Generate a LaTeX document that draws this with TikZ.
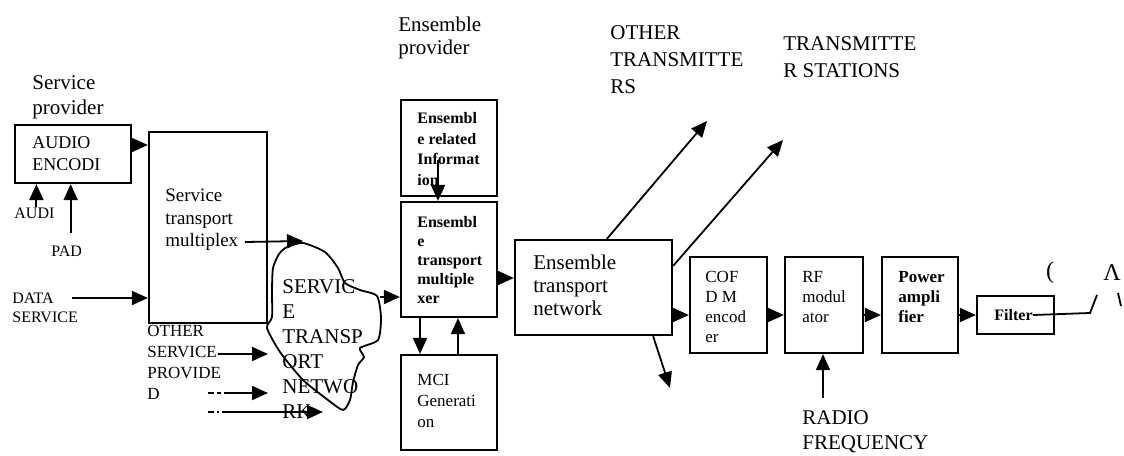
\documentclass[tikz,border=0pt]{standalone}
\usepackage{fontspec}
\setmainfont{Liberation Serif}
\usetikzlibrary{positioning, calc, fit, arrows.meta}

\newcommand{\bigtxt}{\fontsize{10.5}{12.5}\selectfont}
\newcommand{\smalltxt}{\fontsize{8.5}{10}\selectfont}

\begin{document}
\begin{tikzpicture}[x=0.5pt, y=-0.5pt,
		box/.style={draw, line width=1.1pt, inner sep=0pt},
		lbl/.style={align=left, inner sep=0pt, anchor=west},
		arr/.style={-{Triangle[length=8pt,width=7pt]}, line width=0.9pt},
		wire/.style={line width=0.9pt},
	]
		\useasboundingbox (0,0) rectangle (1124,455);

		% service provider side
		\node[lbl, font=\bigtxt] (sp) at (32,97) {Service\\provider};
		\node[box, fit={(15,125) (131,183)}] (audio) {};
		\node[lbl, font=\fontsize{9}{11}\selectfont] (audiot) at (32,154) {AUDIO\\ENCODI};
		\node[lbl, font=\fontsize{8}{9.5}\selectfont] (audi) at (14,213) {AUDI};
		\node[lbl, font=\fontsize{8}{9.5}\selectfont] (pad) at (51,251) {PAD};
		\node[lbl, font=\fontsize{8}{9.5}\selectfont] (data) at (12,308) {DATA\\SERVICE};
		\node[box, fit={(149,132) (267,323)}] (stm) {};
		\node[lbl, font=\fontsize{9.5}{11.25}\selectfont] (stmt) at (165,220) {Service\\transport\\multiplex};
		\node[lbl, font=\fontsize{8.5}{10.5}\selectfont] (osp) at (147,362) {OTHER\\SERVICE\\PROVIDE\\D};

		\draw[arr] ([yshift=4.5pt]audio.east) coordinate (a1) -- (a1 -| stm.west);
		\draw[arr] ([xshift=1pt]audi.north) -- ([xshift=1pt]audi.north |- audio.south);
		\draw[arr] ([xshift=2pt, yshift=6pt]pad.north) -- ([xshift=2pt]pad.north |- audio.south);
		\coordinate (dsin) at (72,298);
		\draw[arr] (dsin) -- (dsin -| stm.west);

		% service transport network
		\draw[wire] plot[smooth cycle, tension=0.4] coordinates {(287,247) (303,243) (325,252) (338,268)
			(345,283) (360,290) (377,296) (381,318) (378,340) (360,348) (364,357) (358,365) (353,382)
			(350,400) (343,410) (328,400) (303,380) (280,352) (267,328) (272,317) (272,290) (273,268) (279,254)};
		\node[lbl, font=\fontsize{10.5}{12.5}\selectfont] (stn) at (282,349) {SERVIC\\E\\TRANSP\\ORT\\NETWO\\RK};

		\coordinate (mplx) at (245,242);
		\coordinate (cldtop) at (303,241);
		\draw[arr] (mplx) -- (cldtop);
		\coordinate (os1) at (218,354);
		\coordinate (os2) at (208,393);
		\coordinate (os3) at (208,412);
		\draw[arr] (os1) -- (268,354);
		\draw[arr, dash pattern=on 3pt off 1.5pt on 2pt off 1.5pt on 200pt] (os2) -- (268,393);
		\draw[arr, dash pattern=on 3pt off 1.5pt on 1pt off 1.5pt on 200pt] (os3) -- (323,412);

		% ensemble provider
		\node[lbl, font=\fontsize{10.5}{11.5}\selectfont] (ep) at (398,38) {Ensemble\\provider};
		\node[box, fit={(401,100) (497,196)}] (eri) {};
		\node[lbl, font=\fontsize{8}{10.3}\selectfont\bfseries] (erit) at (417,149) {Ensembl\\e related\\Informat\\ion};
		\node[box, fit={(401,202) (497,317)}] (etm) {};
		\node[lbl, font=\fontsize{8}{9.5}\selectfont\bfseries] (etmt) at (417,260) {Ensembl\\e\\transport\\multiple\\xer};
		\node[box, fit={(401,355) (497,450)}] (mci) {};
		\node[lbl, font=\fontsize{8.5}{10.5}\selectfont] (mcit) at (417,401) {MCI\\Generati\\on};

		\coordinate (cldr) at (380,297);
		\draw[arr] (cldr) -- (cldr -| etm.west);
		\coordinate (eriin) at (438,160);
		\draw[arr] (eriin) -- (eriin |- etm.north);
		\draw[arr] ([xshift=-14.5pt]etm.south) -- ([xshift=-14.5pt]etm.south |- mci.north);
		\draw[arr] ([xshift=4.5pt]etm.south |- mci.north) -- ([xshift=4.5pt]etm.south);

		% transmission chain
		\node[box, fit={(515,240) (672,335)}] (etn) {};
		\node[lbl, font=\fontsize{10.5}{11.5}\selectfont] (etnt) at (533,285) {Ensemble\\transport\\network};
		\node[box, fit={(690,257) (767,353)}] (cofdm) {};
		\node[lbl, font=\smalltxt] (cofdmt) at (705,307) {COF\\D M\\encod\\er};
		\node[box, fit={(785,257) (863,353)}] (rfm) {};
		\node[lbl, font=\smalltxt] (rfmt) at (802,297) {RF\\modul\\ator};
		\node[box, fit={(882,257) (958,353)}] (pa) {};
		\node[lbl, font=\fontsize{8.5}{10}\selectfont\bfseries] (pat) at (898,297) {Power\\ampli\\fier};
		\node[box, fit={(977,296) (1054,334)}] (filt) {};
		\node[lbl, font=\fontsize{8}{10}\selectfont\bfseries] (filtt) at (994,315) {Filter};

		\draw[arr] ([yshift=-9.25pt]etm.east) coordinate (e1) -- (e1 -| etn.west);
		\draw[arr] (etn.east |- filt.west) -- (cofdm.west |- filt.west);
		\draw[arr] (cofdm.east |- filt.west) -- (rfm.west |- filt.west);
		\draw[arr] (rfm.east |- filt.west) -- (pa.west |- filt.west);
		\draw[arr] (pa.east |- filt.west) -- (filt.west);

		\node[lbl, font=\bigtxt, text depth=0pt] (otx) at (610,60) {OTHER\\[1pt]TRANSMITTE\\[1pt]RS};
		\node[lbl, font=\bigtxt] (txs) at (783,57) {TRANSMITTE\\[1pt]R STATIONS};
		\node[lbl, font=\bigtxt] (rf) at (802,432) {RADIO\\FREQUENCY};
		\coordinate (ot) at (707,121);
		\coordinate (ts) at (783,140);
		\coordinate (etnout) at (670,388);
		\coordinate (rfin) at (823,398);
		\draw[arr] ([xshift=46.5pt]etn.north west) -- (ot);
		\draw[arr] ([yshift=-13.5pt]etn.north east) -- (ts);
		\draw[arr] ([xshift=-10pt]etn.south east) -- (etnout);
		\draw[arr] (rfin) -- (rfin |- rfm.south);

		% antenna
		\coordinate (ant1) at (1090,313);
		\coordinate (ant2) at (1097,295);
		\draw[wire] (filtt.east) -- (ant1) -- (ant2);
		\node[font=\fontsize{12}{12}\selectfont] (antl) at (1050,273) {(};
		\node[font=\fontsize{12}{12}\selectfont] (antr) at (1112,273) {Λ};
		\draw[wire] (1118,293) -- (1121,306);
	\end{tikzpicture}
\end{document}
